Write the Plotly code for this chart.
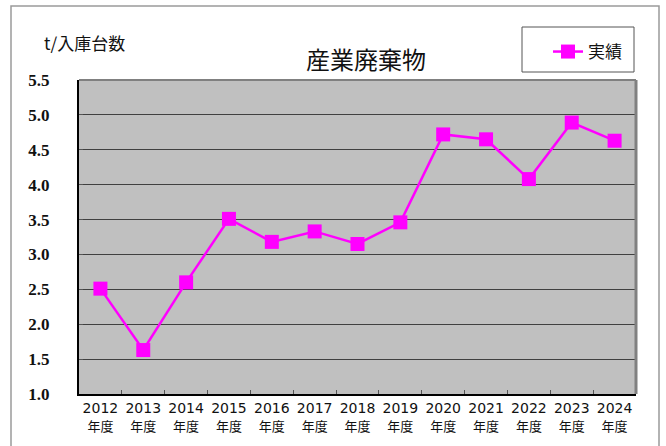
import plotly.graph_objects as go

years = ["2012", "2013", "2014", "2015", "2016", "2017", "2018",
         "2019", "2020", "2021", "2022", "2023", "2024"]
values = [2.51, 1.63, 2.60, 3.51, 3.18, 3.33, 3.15, 3.46, 4.72, 4.65, 4.08, 4.89, 4.63]
tick_vals = [1.0, 1.5, 2.0, 2.5, 3.0, 3.5, 4.0, 4.5, 5.0, 5.5]
tick_text = [f"{v:.1f}" for v in tick_vals]
x_labels = [f"{y}<br><span style='font-size:13px'>年度</span>" for y in years]
series_name = "実績"
title_text = "産業廃棄物"
unit_text = "t/入庫台数"

L, R, T, B = 79, 30, 80, 52
W, H = 666, 446
pw, ph = W - L - R, H - T - B

def px(x):
    return (x - L) / pw

def py(y):
    return (H - B - y) / ph

fig = go.Figure()
fig.add_trace(go.Scatter(
    x=years, y=values, mode="lines+markers", name=series_name,
    line=dict(color="#FF00FF", width=2.5),
    marker=dict(symbol="square", size=14, color="#FF00FF"),
))

fig.update_layout(
    width=W, height=H,
    margin=dict(l=L, r=R, t=T, b=B, pad=0),
    paper_bgcolor="white", plot_bgcolor="#C0C0C0",
    font=dict(family="DejaVu Sans, Noto Sans CJK JP, sans-serif", color="#222222"),
    showlegend=True,
    legend=dict(x=px(548), y=py(52), xanchor="left", yanchor="middle",
                bgcolor="rgba(0,0,0,0)", borderwidth=0,
                font=dict(size=17, color="#111111", family="Noto Sans CJK JP, sans-serif")),
    xaxis=dict(
        type="category", tickmode="array", tickvals=years, ticktext=x_labels,
        tickson="boundaries", ticks="inside", ticklen=4, tickcolor="#555555",
        tickangle=0,
        showline=True, linecolor="black", linewidth=2,
        showgrid=False, tickfont=dict(size=14, color="#111111",
                                      family="DejaVu Sans, Noto Sans CJK JP, sans-serif"),
        range=[-0.5, 12.5],
    ),
    yaxis=dict(
        range=[1.0, 5.5], tickmode="array", tickvals=tick_vals, ticktext=tick_text,
        ticks="inside", ticklen=4, tickcolor="#555555",
        showline=True, linecolor="black", linewidth=2,
        showgrid=True, gridcolor="#404040", gridwidth=1.3,
        zeroline=False,
        ticklabelstandoff=24,
        tickfont=dict(size=17, color="#111111", family="Liberation Serif, serif", weight="bold"),
    ),
)

shapes = [
    # outer border
    dict(type="rect", xref="paper", yref="paper", x0=px(11), x1=px(659), y0=py(470), y1=py(6),
         line=dict(color="#9a9a9a", width=1.5), layer="below"),
    # plot area top/right gray border
    dict(type="line", xref="paper", yref="paper", x0=0, x1=1, y0=1, y1=1,
         line=dict(color="#808080", width=2)),
    dict(type="line", xref="paper", yref="paper", x0=1, x1=1, y0=0, y1=1,
         line=dict(color="#808080", width=3)),
    # legend box
    dict(type="rect", xref="paper", yref="paper", x0=px(522), x1=px(634), y0=py(72), y1=py(27),
         line=dict(color="#555555", width=1), layer="below"),
]
fig.update_layout(shapes=shapes)

fig.add_annotation(text=title_text, xref="paper", yref="paper", x=px(366), y=py(58),
                   xanchor="center", yanchor="middle", showarrow=False,
                   font=dict(size=24, color="#111111", family="Noto Sans CJK JP, sans-serif"))
fig.add_annotation(text=unit_text, xref="paper", yref="paper", x=px(42), y=py(43),
                   xanchor="left", yanchor="middle", showarrow=False,
                   font=dict(size=17, color="#111111", family="Noto Sans CJK JP, sans-serif"))

fig.write_html("out.html", config={"displayModeBar": False},
               post_script="document.body.style.margin='0';")
